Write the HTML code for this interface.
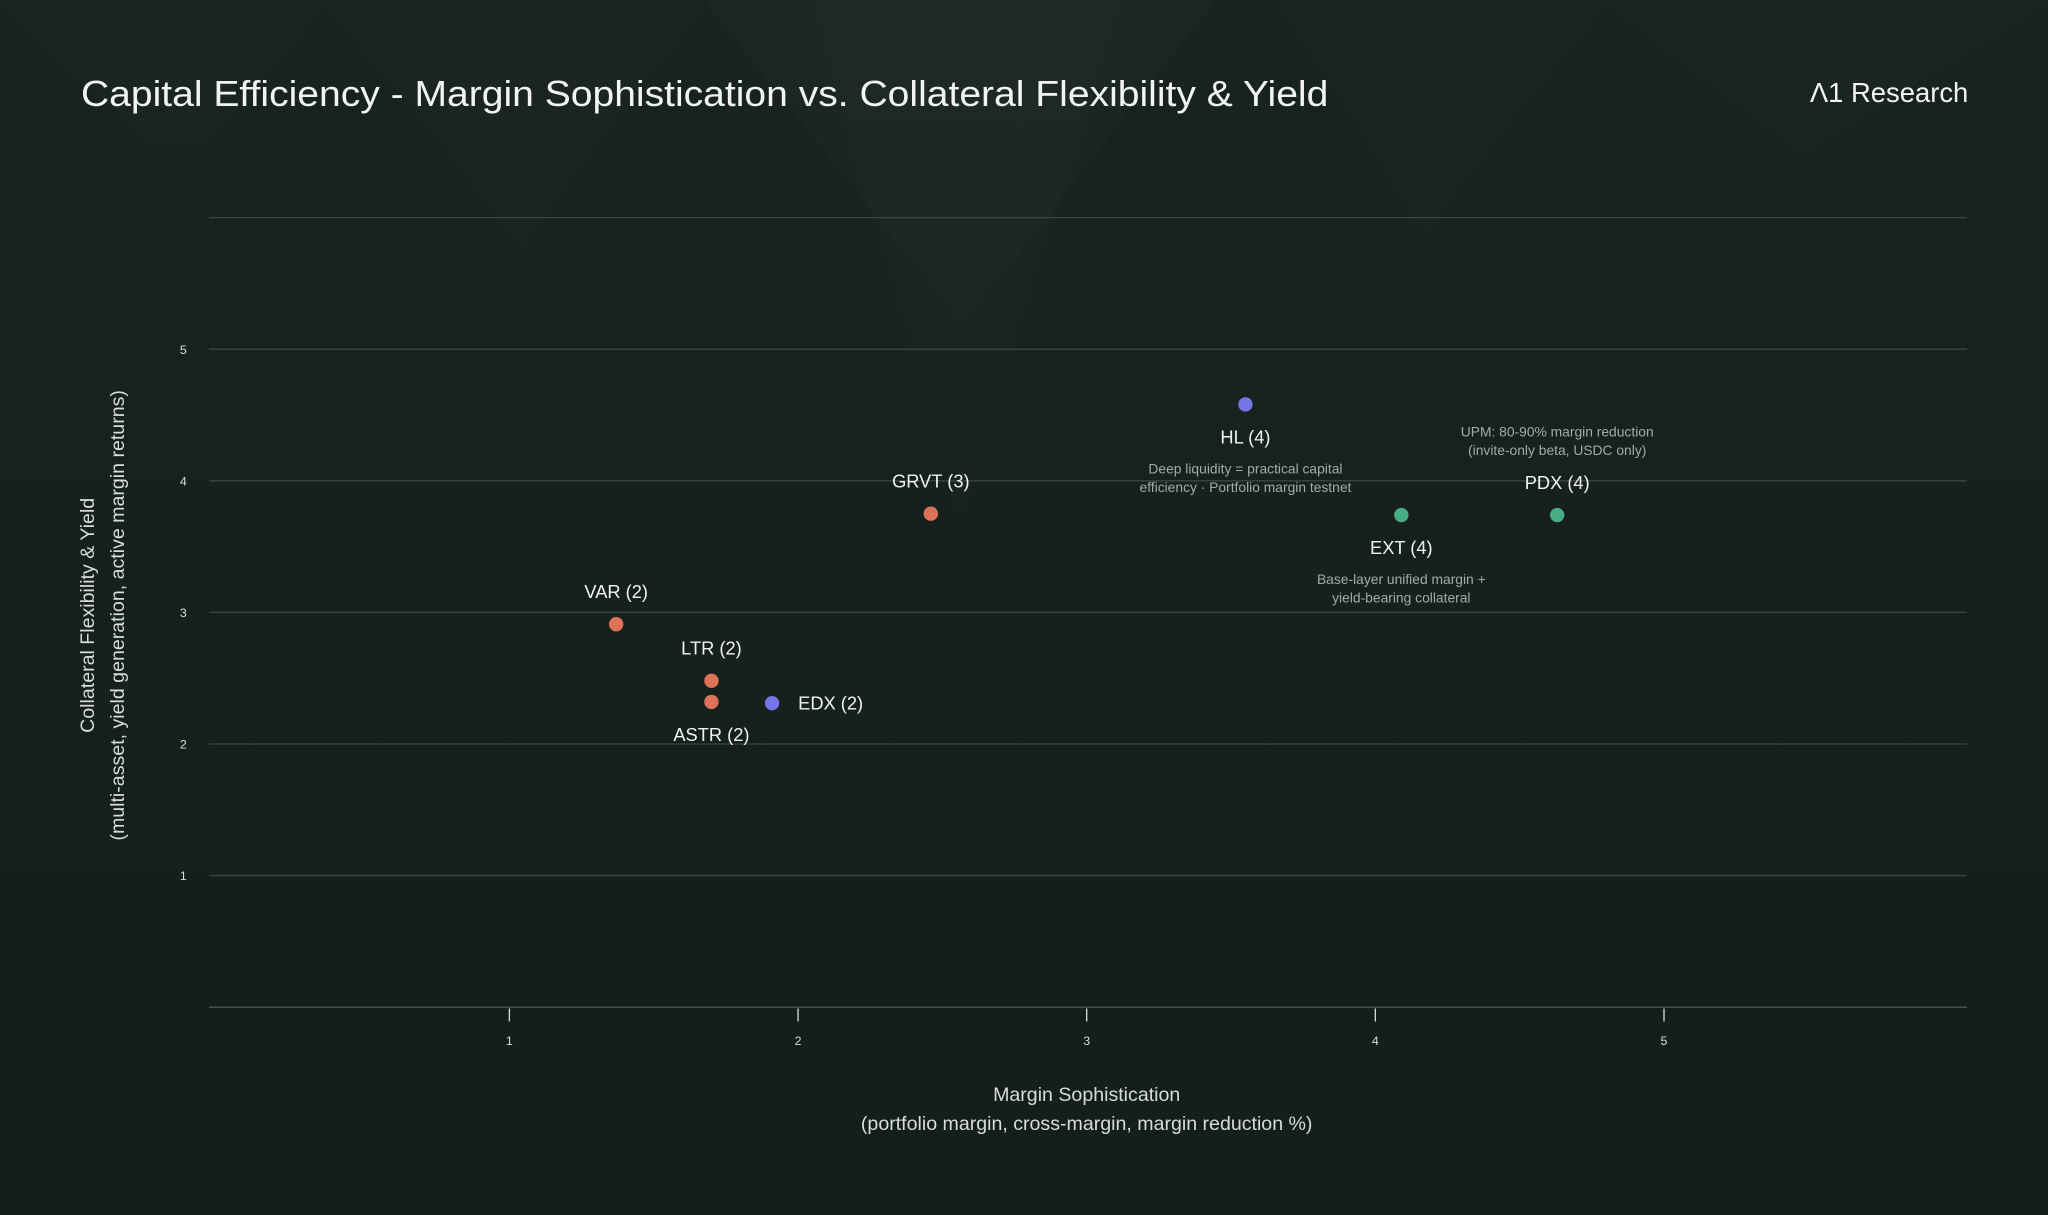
<!DOCTYPE html>
<html><head><meta charset="utf-8"><style>
html,body{margin:0;padding:0;background:#15201d;}
svg{display:block;font-family:"Liberation Sans",sans-serif;}
</style></head><body>
<svg width="2048" height="1215" viewBox="0 0 1568 930" xmlns="http://www.w3.org/2000/svg">
<defs><linearGradient id="bg" x1="0" y1="0" x2="0" y2="1"><stop offset="0" stop-color="#19231f"/><stop offset="1" stop-color="#131d1b"/></linearGradient></defs>
<rect width="1568" height="930" fill="url(#bg)"/>
<g fill="#ffffff">
<polygon points="540,0 930,0 737,250" opacity="0.014"/>
<polygon points="620,0 860,0 735,400" opacity="0.012"/>
<polygon points="250,0 540,0 400,190" opacity="0.01"/>
<polygon points="980,0 1230,0 1090,180" opacity="0.01"/>
<polygon points="1230,0 1568,0 1380,120" opacity="0.01"/>
<polygon points="0,0 250,0 140,140" opacity="0.008"/>
</g>
<text x="62" y="81" font-size="28" textLength="955" lengthAdjust="spacingAndGlyphs" fill="#f2f4f3">Capital Efficiency - Margin Sophistication vs. Collateral Flexibility &amp; Yield</text>
<text x="1507" y="78" font-size="21" fill="#f2f4f3" text-anchor="end">Λ1 Research</text>
<g id="grid"></g>
<g id="axes"></g>
<text x="832" y="843" font-size="15" fill="#d8dcdb" text-anchor="middle">Margin Sophistication</text>
<text x="832" y="865" font-size="15" fill="#d8dcdb" text-anchor="middle">(portfolio margin, cross-margin, margin reduction %)</text>
<text transform="translate(72,471) rotate(-90)" font-size="15" fill="#d8dcdb" text-anchor="middle">Collateral Flexibility &amp; Yield</text>
<text transform="translate(95,471) rotate(-90)" font-size="15" fill="#d8dcdb" text-anchor="middle">(multi-asset, yield generation, active margin returns)</text>
<g id="points"></g>
</svg>
<script>
const names=["VAR (2)","LTR (2)","ASTR (2)","EDX (2)","GRVT (3)","HL (4)","EXT (4)","PDX (4)"];
const xVals=[1.37,1.70,1.70,1.91,2.46,3.55,4.09,4.63];
const yVals=[2.91,2.48,2.32,2.31,3.75,4.58,3.74,3.74];
const groups=["o","o","o","p","o","p","g","g"];
const labelPos=["above","above","below","right","above","below","below","above"];
const xTicks=[1,2,3,4,5];
const yTicks=[1,2,3,4,5,6];
const notes={5:["Deep liquidity = practical capital","efficiency · Portfolio margin testnet"],6:["Base-layer unified margin +","yield-bearing collateral"],7:["UPM: 80-90% margin reduction","(invite-only beta, USDC only)"]};
const colors={o:"#dc7358",p:"#7675e6",g:"#47ad86"};
const NS="http://www.w3.org/2000/svg";
const X=v=>169+v*221, Y=v=>771-v*100.75;
function mk(t,a,p){const e=document.createElementNS(NS,t);for(const k in a)e.setAttribute(k,a[k]);p.appendChild(e);return e;}
const grid=document.getElementById('grid'),axes=document.getElementById('axes'),pts=document.getElementById('points');
yTicks.forEach(t=>{
 const l=mk('line',{x1:160,x2:1506,y1:Y(t),y2:Y(t),stroke:"#3b4643","stroke-width":1},grid);
 
 
 if(t<=5){const tx=mk('text',{x:143,y:Y(t)+3.5,"font-size":9.5,fill:"#d8dcdb","text-anchor":"end"},axes);tx.textContent=t;
 
 }
});
const base=mk('line',{x1:160,x2:1506,y1:771,y2:771,stroke:"#4a5552","stroke-width":1},axes);


xTicks.forEach(t=>{
 const tk=mk('line',{x1:X(t),x2:X(t),y1:772,y2:782,stroke:"#d8dcdb","stroke-width":1},axes);
 
 
 const tx=mk('text',{x:X(t),y:800,"font-size":9.5,fill:"#d8dcdb","text-anchor":"middle"},axes);tx.textContent=t;
 
 
});
names.forEach((n,i)=>{
 const cx=X(xVals[i]),cy=Y(yVals[i]);
 const c=mk('circle',{cx:cx,cy:cy,r:5.5,fill:colors[groups[i]]},pts);
 
 
 let lx=cx,ly,anc="middle";
 if(labelPos[i]=="above")ly=cy-20;else if(labelPos[i]=="below")ly=cy+30;else{lx=cx+20;ly=cy+5;anc="start";}
 const t=mk('text',{x:lx,y:ly,"font-size":14,fill:"#f2f4f3","text-anchor":anc},pts);t.textContent=n;
 
 
 if(notes[i]){
  const off=labelPos[i]=="below"?53:-60;
  notes[i].forEach((s,j)=>{const a=mk('text',{x:cx,y:cy+off+j*14,"font-size":10.6,fill:"#a3aba8","text-anchor":"middle"},pts);a.textContent=s;
  
  });
 }
});
</script>
</body></html>
